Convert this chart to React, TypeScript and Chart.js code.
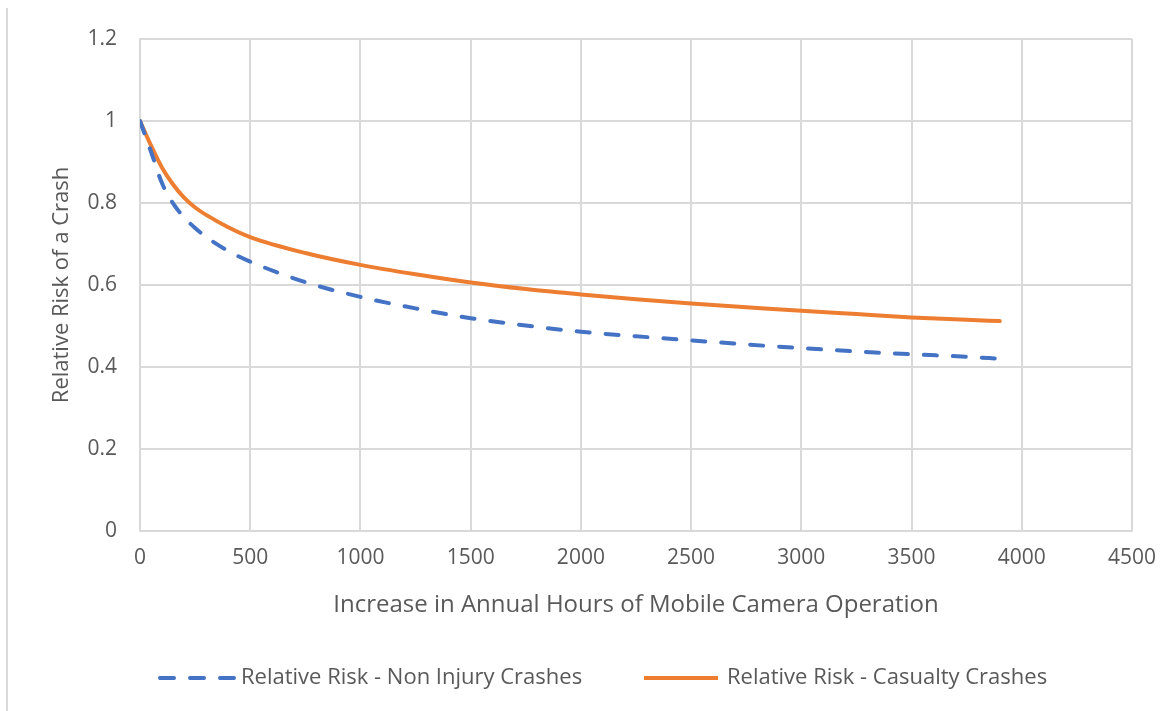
import React, { useEffect, useRef } from "react";
import { Chart, registerables } from "chart.js";

Chart.register(...registerables);

// Increase in annual hours of mobile camera operation
const hours = [0, 50, 100, 150, 200, 250, 300, 400, 500, 750, 1000, 1250, 1500, 1750, 2000, 2250, 2500, 2750, 3000, 3250, 3500, 3750, 3900];

// Relative risk of a crash for each series
const nonInjuryRisk = [1.0, 0.925, 0.848, 0.799, 0.765, 0.739, 0.717, 0.683, 0.657, 0.607, 0.571, 0.543, 0.519, 0.501, 0.486, 0.475, 0.465, 0.455, 0.446, 0.438, 0.431, 0.425, 0.42];
const casualtyRisk = [1.0, 0.94, 0.886, 0.845, 0.813, 0.789, 0.771, 0.741, 0.717, 0.678, 0.649, 0.626, 0.606, 0.59, 0.577, 0.565, 0.555, 0.546, 0.537, 0.529, 0.521, 0.515, 0.512];

const seriesNames = ["Relative Risk - Non Injury Crashes", "Relative Risk - Casualty Crashes"];
const xTitle = "Increase in Annual Hours of Mobile Camera Operation";
const yTitle = "Relative Risk of a Crash";

const FONT = "'Open Sans', 'Noto Sans', sans-serif";
const TEXT = "#595959";
const GRID = "#d9d9d9";
const BLUE = "#4472C4";
const ORANGE = "#ED7D31";

// Legend drawn beneath the plot: a line sample followed by the series name
const bottomLegend = {
  id: "bottomLegend",
  afterDraw(chart: any) {
    const ctx = chart.ctx;
    const y = 678;
    const items = [
      { x0: 160, x1: 234, textX: 241, dash: [14, 16], color: BLUE, cap: "round", label: seriesNames[0] },
      { x0: 644, x1: 718, textX: 727, dash: [], color: ORANGE, cap: "butt", label: seriesNames[1] },
    ];
    ctx.save();
    for (const it of items) {
      ctx.beginPath();
      ctx.setLineDash(it.dash);
      ctx.lineCap = it.cap;
      ctx.lineWidth = 4;
      ctx.strokeStyle = it.color;
      ctx.moveTo(it.x0, y);
      ctx.lineTo(it.x1, y);
      ctx.stroke();
      ctx.setLineDash([]);
      ctx.fillStyle = TEXT;
      ctx.font = `22px ${FONT}`;
      ctx.textAlign = "left";
      ctx.textBaseline = "middle";
      ctx.fillText(it.label, it.textX, y);
    }
    ctx.restore();
  },
};

function RiskChart() {
  const ref = useRef<HTMLCanvasElement | null>(null);

  useEffect(() => {
    if (!ref.current) return;
    const chart = new Chart(ref.current, {
      type: "line",
      data: {
        datasets: [
          {
            label: seriesNames[0],
            data: hours.map((h, i) => ({ x: h, y: nonInjuryRisk[i] })),
            borderColor: BLUE,
            backgroundColor: BLUE,
            borderWidth: 4,
            borderDash: [13, 16],
            borderCapStyle: "round",
            pointRadius: 0,
            cubicInterpolationMode: "monotone",
            fill: false,
          },
          {
            label: seriesNames[1],
            data: hours.map((h, i) => ({ x: h, y: casualtyRisk[i] })),
            borderColor: ORANGE,
            backgroundColor: ORANGE,
            borderWidth: 4,
            borderCapStyle: "round",
            pointRadius: 0,
            cubicInterpolationMode: "monotone",
            fill: false,
          },
        ],
      },
      options: {
        animation: false,
        responsive: false,
        maintainAspectRatio: false,
        layout: { padding: { left: 0, top: 39, right: 44, bottom: 80 } },
        plugins: {
          legend: { display: false },
          tooltip: { enabled: false },
        },
        scales: {
          x: {
            type: "linear",
            min: 0,
            max: 4500,
            grid: { color: GRID, lineWidth: 2, drawTicks: false },
            border: { color: GRID, width: 2 },
            ticks: {
              stepSize: 500,
              padding: 14,
              color: TEXT,
              font: { family: FONT, size: 21 },
              maxRotation: 0,
              callback: (v: any) => String(v),
            },
            title: {
              display: true,
              text: xTitle,
              color: TEXT,
              font: { family: FONT, size: 24 },
              padding: { top: 0, bottom: 11 },
            },
            afterFit: (scale: any) => {
              scale.height = 100;
              scale.paddingLeft = 0;
              scale.paddingRight = 0;
            },
          },
          y: {
            type: "linear",
            min: 0,
            max: 1.2,
            grid: { color: GRID, lineWidth: 2, drawTicks: false },
            border: { color: GRID, width: 2 },
            ticks: {
              stepSize: 0.2,
              padding: 23,
              color: TEXT,
              font: { family: FONT, size: 21 },
              callback: (v: any) => String(parseFloat(Number(v).toFixed(1))),
            },
            title: {
              display: true,
              text: yTitle,
              color: TEXT,
              font: { family: FONT, size: 22 },
              padding: { top: 49, bottom: 0 },
            },
            afterFit: (scale: any) => {
              scale.width = 140;
              scale.paddingTop = 0;
              scale.paddingBottom = 0;
            },
          },
        },
      },
      plugins: [bottomLegend],
    } as any);
    return () => chart.destroy();
  }, []);

  return <canvas ref={ref} width={1176} height={711} style={{ display: "block" }} />;
}

export default function App() {
  return (
    <div style={{ position: "fixed", left: 0, top: 0, width: 1176, height: 711, background: "#ffffff" }}>
      <div style={{ position: "absolute", left: 6, top: 8, width: 2, height: 703, background: GRID }} />
      <RiskChart />
    </div>
  );
}
